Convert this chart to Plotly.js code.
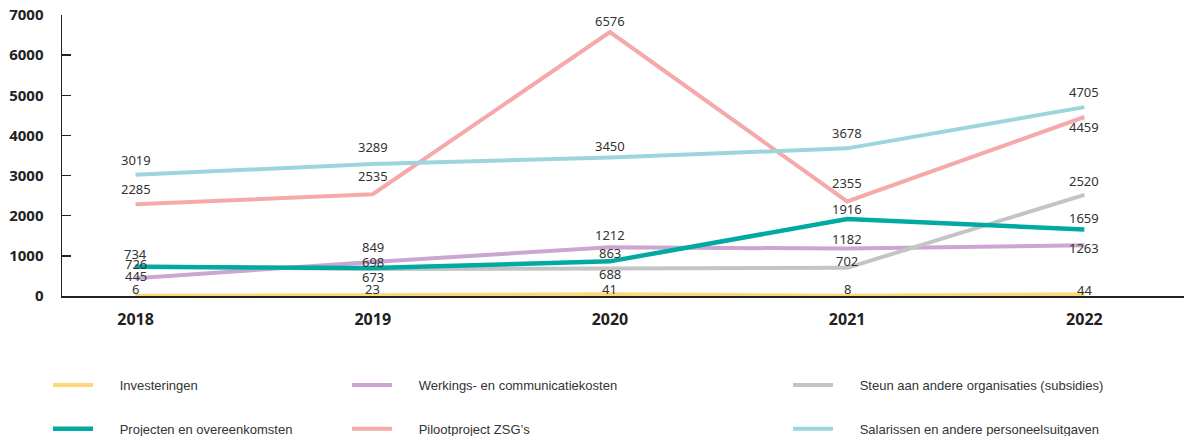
<!DOCTYPE html>
<html>
<head>
<meta charset="utf-8">
<script src="https://cdn.plot.ly/plotly-3.0.1.min.js"></script>
<style>html,body{margin:0;padding:0;background:#fff;}#chart{width:1187px;height:436px;}</style>
</head>
<body>
<div id="chart"></div>
<script>
const years = ['2018', '2019', '2020', '2021', '2022'];
const investeringen = [6, 23, 41, 8, 44];
const werkings = [445, 849, 1212, 1182, 1263];
const steun = [734, 673, 688, 702, 2520];
const projecten = [726, 698, 863, 1916, 1659];
const piloot = [2285, 2535, 6576, 2355, 4459];
const salarissen = [3019, 3289, 3450, 3678, 4705];
const yTicks = [0, 1000, 2000, 3000, 4000, 5000, 6000, 7000];

const names = {
  inv: 'Investeringen',
  werk: 'Werkings- en communicatiekosten',
  steun: 'Steun aan andere organisaties (subsidies)',
  proj: 'Projecten en overeenkomsten',
  pil: 'Pilootproject ZSG\u2019s',
  sal: 'Salarissen en andere personeelsuitgaven'
};

// label vertical offsets (px, positive = up) per series per year
const labelShift = {
  inv:   [7, 6, 5, 7, 4],
  werk:  [2, 15, 12, 10, -3],
  steun: [13, -8, -6, 7, 14],
  proj:  [3, 6, 8, 10, 11],
  pil:   [15, 18, 11, 18, -10],
  sal:   [15, 17, 12, 15, 15]
};

const pad = '\u00a0\u00a0\u00a0\u00a0\u00a0\u00a0';

function tr(name, vals, color, legend, group, width) {
  return {
    type: 'scatter', mode: 'lines', x: years, y: vals, name: pad + name,
    line: {color: color, width: width || 4},
    legend: legend, legendgroup: group, hoverinfo: 'skip'
  };
}

const series = [
  ['inv', investeringen], ['werk', werkings], ['steun', steun],
  ['proj', projecten], ['pil', piloot], ['sal', salarissen]
];

const data = [
  tr(names.inv, investeringen, '#FBD878', 'legend', 'a'),
  tr(names.werk, werkings, '#CBA6D1', 'legend2', 'c'),
  tr(names.steun, steun, '#C4C4C4', 'legend3', 'e'),
  tr(names.proj, projecten, '#00AAA0', 'legend', 'b', 4.5),
  tr(names.pil, piloot, '#F5A9AB', 'legend2', 'd'),
  tr(names.sal, salarissen, '#9DD5DC', 'legend3', 'f')
];

const annotations = [];
series.forEach(([key, vals]) => {
  vals.forEach((v, i) => {
    annotations.push({
      x: i, y: v, xref: 'x', yref: 'y', text: String(v), showarrow: false,
      yshift: labelShift[key][i], xanchor: 'center', yanchor: 'middle',
      font: {family: 'Noto Sans, sans-serif', size: 13, color: '#333'}
    });
  });
});

const legBase = {
  orientation: 'v', xref: 'container', yref: 'container', yanchor: 'top', xanchor: 'left',
  y: 1 - 370 / 436, font: {family: 'Liberation Sans, Arial, sans-serif', size: 13, color: '#333'},
  tracegroupgap: 24, itemwidth: 40, bgcolor: 'rgba(0,0,0,0)', traceorder: 'grouped'
};

const layout = {
  width: 1187, height: 436,
  margin: {l: 62, r: 3, t: 15, b: 140, autoexpand: false},
  paper_bgcolor: '#fff', plot_bgcolor: '#fff',
  showlegend: true,
  annotations: annotations,
  legend: Object.assign({}, legBase, {x: 48 / 1187}),
  legend2: Object.assign({}, legBase, {x: 347 / 1187}),
  legend3: Object.assign({}, legBase, {x: 788 / 1187}),
  xaxis: {
    type: 'category', range: [-0.31, 4.42], showgrid: false, zeroline: false,
    showline: true, linecolor: '#222', linewidth: 1.5, ticks: '',
    tickfont: {family: 'Noto Sans, sans-serif', size: 16, color: '#222', weight: 'bold'},
    ticklabelstandoff: 8, fixedrange: true
  },
  yaxis: {
    range: [0, 7000], tickvals: yTicks, ticktext: yTicks.map(String),
    showgrid: false, zeroline: false, showline: true, linecolor: '#222', linewidth: 1.5,
    ticks: 'inside', ticklen: 9, tickcolor: '#222', tickwidth: 1.5,
    tickfont: {family: 'Noto Sans, sans-serif', size: 15, color: '#222', weight: 'bold'},
    ticklabelstandoff: 14, fixedrange: true
  }
};

Plotly.newPlot('chart', data, layout, {displayModeBar: false, staticPlot: true});
</script>
</body>
</html>
